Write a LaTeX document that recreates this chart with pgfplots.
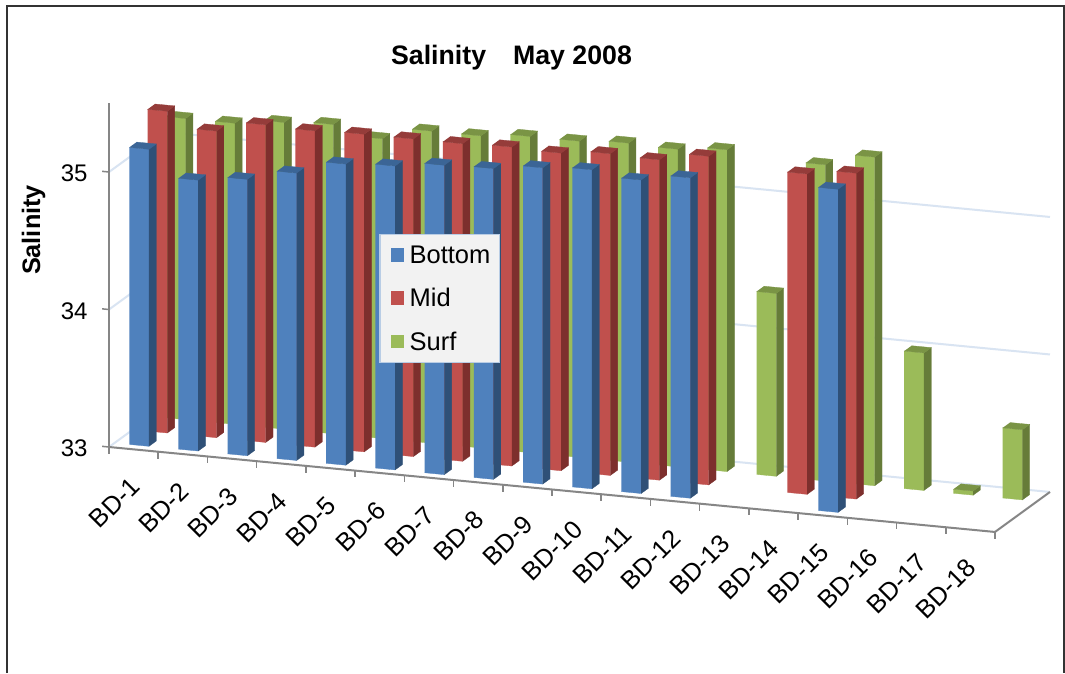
\documentclass[border=0pt]{standalone}
\usepackage{pgfplots}
\pgfplotsset{compat=1.18}
\usepackage{fontspec}
\setmainfont{Liberation Sans}
\definecolor{bluef}{HTML}{4F81BD}\definecolor{blues}{HTML}{2F5077}\definecolor{bluet}{HTML}{3B6596}
\definecolor{redf}{HTML}{C0504D}\definecolor{reds}{HTML}{7D2F2D}\definecolor{redt}{HTML}{953C3A}
\definecolor{greenf}{HTML}{9BBB59}\definecolor{greens}{HTML}{667C39}\definecolor{greent}{HTML}{7A9445}
\definecolor{gridc}{HTML}{D9E4F2}\definecolor{axisc}{HTML}{868686}\definecolor{legc}{HTML}{B9CDE5}
\newcommand\Face[2]{\edef\tmp{\noexpand\addplot3[forget plot,fill=#1,draw=#1,line width=.3pt,no markers] coordinates {#2};}\tmp}
% \BarBox{category}{row}{value}{colour prefix}
\newcommand\BarBox[4]{%
  \pgfmathsetmacro\xa{#1+.3}\pgfmathsetmacro\xb{#1+.7}%
  \pgfmathsetmacro\ya{#2+.3}\pgfmathsetmacro\yb{#2+.7}%
  \Face{#4f}{(\xa,\ya,33) (\xb,\ya,33) (\xb,\ya,#3) (\xa,\ya,#3)}%
  \Face{#4s}{(\xb,\ya,33) (\xb,\yb,33) (\xb,\yb,#3) (\xb,\ya,#3)}%
  \Face{#4t}{(\xa,\ya,#3) (\xb,\ya,#3) (\xb,\yb,#3) (\xa,\yb,#3)}%
}
\newcommand\Seg[3]{\edef\tmp{\noexpand\addplot3[forget plot,no markers,#1] coordinates {#2 #3};}\tmp}
\begin{document}
\begin{tikzpicture}
\path[use as bounding box,fill=white] (0,0) rectangle (1065pt,673pt);
\draw[line width=2pt,color=black!80] (6.5pt,0pt) -- (6.5pt,666.5pt) -- (1063.5pt,666.5pt) -- (1063.5pt,0pt);
\begin{axis}[
  at={(109pt,226pt)},anchor=origin,
  x={(49.22pt,-4.72pt)},y={(18.33pt,13.33pt)},z={(0pt,137.5pt)},
  xmin=0,xmax=18,ymin=0,ymax=3,zmin=33,zmax=35.5,
  clip=false,
  axis line style={draw=none},tick style={draw=none},
  major tick length=0pt,
  xtick={0.5,1.5,2.5,3.5,4.5,5.5,6.5,7.5,8.5,9.5,10.5,11.5,12.5,13.5,14.5,15.5,16.5,17.5},
  xticklabels={BD-1,BD-2,BD-3,BD-4,BD-5,BD-6,BD-7,BD-8,BD-9,BD-10,BD-11,BD-12,BD-13,BD-14,BD-15,BD-16,BD-17,BD-18},
  ytick=\empty,
  ztick={33,34,35},
  /pgf/number format/assume math mode=true,
  xticklabel style={font=\fontsize{25.5}{25.5}\selectfont,rotate=45,anchor=east,xshift=-19.1pt,yshift=-24.4pt},
  zticklabel style={font=\fontsize{24}{24}\selectfont,xshift=-18pt,yshift=3pt},
  legend style={at={(axis cs:6.72,0,34.31)},anchor=center,fill=black!5,draw=legc,line width=1.5pt,
    font=\fontsize{25.5}{25.5}\selectfont,cells={anchor=west},inner xsep=7pt,inner ysep=9pt,
    row sep=19.5pt},
  legend image code/.code={\fill[#1] (0pt,-6pt) rectangle (12pt,6pt);\path[draw=none,fill=none] (-4.5pt,0pt) -- (16pt,0pt);},
]
% walls and floor
\Seg{draw=gridc,line width=2pt}{(0,3,34)}{(18,3,34)}
\Seg{draw=gridc,line width=2pt}{(0,3,35)}{(18,3,35)}
\Seg{draw=gridc,line width=2pt}{(0,3,33)}{(18,3,33)}
\Seg{draw=gridc,line width=2pt}{(0,0,33)}{(0,3,33)}
\Seg{draw=gridc,line width=2pt}{(0,0,34)}{(0,3,34)}
\Seg{draw=gridc,line width=2pt}{(0,0,35)}{(0,3,35)}
\Seg{draw=axisc,line width=2pt}{(0,0,33)}{(18,0,33)}
\Seg{draw=axisc,line width=2pt}{(18,0,33)}{(18,3,33)}
\Seg{draw=axisc,line width=2pt}{(0,0,33)}{(0,0,35.5)}
\pgfplotsforeachungrouped \k in {0,...,18}{\Seg{draw=axisc,line width=1.5pt}{(\k,0,33)}{(\k,0,32.95)}}
\Seg{draw=axisc,line width=1.5pt}{(0,0,33)}{(-0.14,0,33)}
\Seg{draw=axisc,line width=1.5pt}{(0,0,34)}{(-0.14,0,34)}
\Seg{draw=axisc,line width=1.5pt}{(0,0,35)}{(-0.14,0,35)}
% Surf
\BarBox{0}{2}{35.19}{green}\BarBox{1}{2}{35.19}{green}\BarBox{2}{2}{35.23}{green}
\BarBox{3}{2}{35.25}{green}\BarBox{4}{2}{35.18}{green}\BarBox{5}{2}{35.27}{green}
\BarBox{6}{2}{35.27}{green}\BarBox{7}{2}{35.30}{green}\BarBox{8}{2}{35.30}{green}
\BarBox{9}{2}{35.32}{green}\BarBox{10}{2}{35.31}{green}\BarBox{11}{2}{35.34}{green}
\BarBox{12}{2}{34.33}{green}\BarBox{13}{2}{35.30}{green}\BarBox{14}{2}{35.39}{green}
\BarBox{15}{2}{34.00}{green}\BarBox{16}{2}{33.03}{green}\BarBox{17}{2}{33.51}{green}
% Mid
\BarBox{0}{1}{35.34}{red}\BarBox{1}{1}{35.23}{red}\BarBox{2}{1}{35.31}{red}
\BarBox{3}{1}{35.30}{red}\BarBox{4}{1}{35.31}{red}\BarBox{5}{1}{35.31}{red}
\BarBox{6}{1}{35.31}{red}\BarBox{7}{1}{35.32}{red}\BarBox{8}{1}{35.31}{red}
\BarBox{9}{1}{35.34}{red}\BarBox{10}{1}{35.33}{red}\BarBox{11}{1}{35.39}{red}
\BarBox{13}{1}{35.33}{red}\BarBox{14}{1}{35.37}{red}
% Bottom
\BarBox{0}{0}{35.16}{blue}\BarBox{1}{0}{34.97}{blue}\BarBox{2}{0}{35.01}{blue}
\BarBox{3}{0}{35.09}{blue}\BarBox{4}{0}{35.19}{blue}\BarBox{5}{0}{35.21}{blue}
\BarBox{6}{0}{35.25}{blue}\BarBox{7}{0}{35.26}{blue}\BarBox{8}{0}{35.30}{blue}
\BarBox{9}{0}{35.32}{blue}\BarBox{10}{0}{35.28}{blue}\BarBox{11}{0}{35.33}{blue}
\BarBox{14}{0}{35.35}{blue}
\addlegendimage{fill=bluef,draw=bluef}\addlegendentry{Bottom}
\addlegendimage{fill=redf,draw=redf}\addlegendentry{Mid}
\addlegendimage{fill=greenf,draw=greenf}\addlegendentry{Surf}
\end{axis}
\node[font=\bfseries\fontsize{26.7}{27}\selectfont] at (511.5pt,615pt) {Salinity\hspace{27pt}May 2008};
\node[font=\bfseries\fontsize{25.3}{25}\selectfont,rotate=90] at (33.5pt,443pt) {Salinity};
\end{tikzpicture}
\end{document}
